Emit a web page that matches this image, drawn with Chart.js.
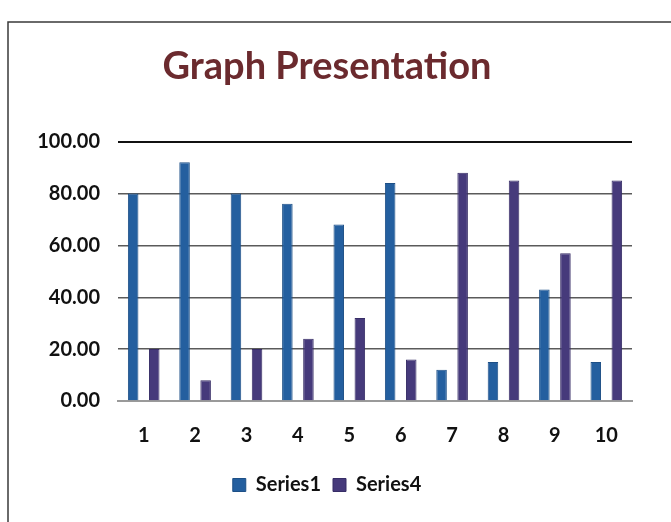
<!DOCTYPE html>
<html>
<head>
<meta charset="utf-8">
<script src="https://cdn.jsdelivr.net/npm/chart.js@4.4.0/dist/chart.umd.min.js"></script>
<style>
  html, body { margin: 0; padding: 0; background: #ffffff; }
  #wrap { width: 671px; height: 522px; position: relative; }
</style>
</head>
<body>
<div id="wrap"><canvas id="c" width="671" height="522"></canvas></div>
<script>
const categories = ["1", "2", "3", "4", "5", "6", "7", "8", "9", "10"];
const series1 = [80, 92, 80, 76, 68, 84, 12, 15, 43, 15];
const series4 = [20, 8, 20, 24, 32, 16, 88, 85, 57, 85];
const yTicks = [0, 20, 40, 60, 80, 100];

const framePlugin = {
  id: 'frame',
  beforeDraw(chart) {
    const ctx = chart.ctx;
    ctx.save();
    ctx.fillStyle = '#ffffff';
    ctx.fillRect(0, 0, chart.width, chart.height);
    ctx.strokeStyle = '#3a3a3a';
    ctx.lineWidth = 1.5;
    ctx.beginPath();
    ctx.moveTo(8, chart.height);
    ctx.lineTo(8, 22);
    ctx.lineTo(chart.width, 22);
    ctx.stroke();
    ctx.restore();
  }
};

new Chart(document.getElementById('c'), {
  type: 'bar',
  data: {
    labels: categories,
    datasets: [
      { label: 'Series1', data: series1, backgroundColor: '#245f9f', borderColor: '#1d4f86', borderWidth: 1 },
      { label: 'Series4', data: series4, backgroundColor: '#463a7b', borderColor: '#372d66', borderWidth: 1 }
    ]
  },
  plugins: [framePlugin],
  options: {
    responsive: false,
    animation: false,
    devicePixelRatio: 1,
    layout: { padding: { left: 22, right: 39, top: 10, bottom: 17 } },
    datasets: { bar: { barPercentage: 0.5, categoryPercentage: 0.82 } },
    plugins: {
      title: {
        display: true,
        text: 'Graph Presentation',
        color: '#6b2a2e',
        font: { family: 'Lato', size: 38, weight: 'bold' },
        padding: { top: 34, bottom: 52 }
      },
      legend: {
        position: 'bottom',
        labels: {
          color: '#111111',
          font: { family: 'Lato', size: 20, weight: 'bold' },
          boxWidth: 13,
          boxHeight: 13,
          padding: 12
        }
      },
      tooltip: { enabled: false }
    },
    scales: {
      x: {
        grid: { display: false },
        border: { display: true, color: '#9a9a9a', width: 2 },
        ticks: { color: '#111111', font: { family: 'Lato', size: 20, weight: 'bold' }, padding: 15 }
      },
      y: {
        min: 0,
        max: 100,
        afterBuildTicks(axis) { axis.ticks = yTicks.map(v => ({ value: v })); },
        afterFit(axis) { axis.width = 96; },
        grid: {
          color: (c) => c.tick && c.tick.value === 100 ? '#111111' : '#5a5a5a',
          lineWidth: (c) => c.tick && c.tick.value === 100 ? 2 : 1.4,
          drawTicks: false
        },
        border: { display: false },
        ticks: {
          color: '#111111',
          font: { family: 'Lato', size: 20, weight: 'bold' },
          padding: 18,
          callback: (v) => Number(v).toFixed(2)
        }
      }
    }
  }
});
</script>
</body>
</html>
